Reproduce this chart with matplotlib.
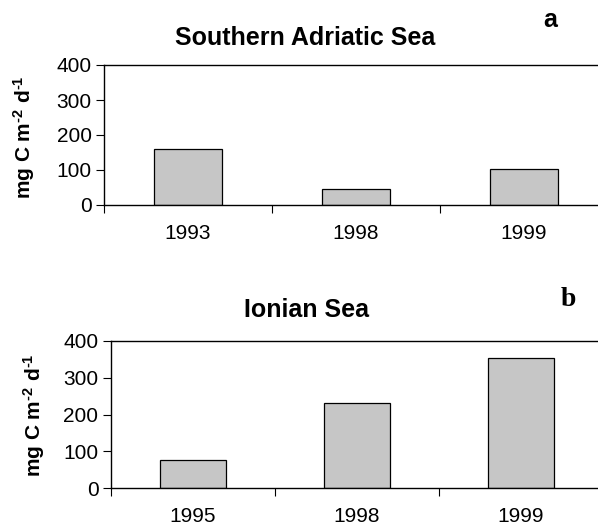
import matplotlib
matplotlib.use("Agg")
import matplotlib.pyplot as plt

plt.rcParams['font.family'] = ['Liberation Sans', 'DejaVu Sans']
plt.rcParams['mathtext.fontset'] = 'custom'
plt.rcParams['mathtext.rm'] = 'Liberation Sans'
plt.rcParams['mathtext.bf'] = 'Liberation Sans:bold'

# panel a: Southern Adriatic Sea
years_a = ['1993', '1998', '1999']
prod_a = [160, 45, 104]

# panel b: Ionian Sea
years_b = ['1995', '1998', '1999']
prod_b = [77, 231, 355]

W, H = 598, 527
fig = plt.figure(figsize=(W / 100, H / 100), dpi=100)

# hyphen (U+2010) instead of a math minus, as in the original label
YLABEL = 'mg C m$\\mathbf{^{\u20102}}$ d$\\mathbf{^{\u20101}}$'


def px_axes(left, top, right, bottom):
    return fig.add_axes([left / W, 1 - bottom / H, (right - left) / W, (bottom - top) / H])


def bar_panel(ax, years, vals, xmax, title, title_xy, ylab_xy,
              letter, letter_xy, letter_font):
    x = range(len(years))
    ax.bar(x, vals, width=0.4, color='#c6c6c6', edgecolor='black', linewidth=0.9)
    ax.set_xlim(-0.5, xmax)
    ax.set_ylim(0, 400)
    ax.set_yticks([0, 100, 200, 300, 400])
    ax.tick_params(axis='y', labelsize=15, length=6, width=0.8, direction='out', pad=3)
    # category boundaries carry the ticks, labels sit in the middle
    ax.set_xticks([-0.5, 0.5, 1.5])
    ax.set_xticklabels([])
    ax.set_xticks(list(x), minor=True)
    ax.set_xticklabels(years, minor=True, fontsize=15)
    ax.tick_params(axis='x', which='major', length=6, width=0.8, direction='out')
    ax.tick_params(axis='x', which='minor', length=0, pad=14)
    ax.spines['right'].set_visible(False)
    for s in ['left', 'bottom', 'top']:
        ax.spines[s].set_linewidth(1.0)
    fig.text(ylab_xy[0] / W, 1 - ylab_xy[1] / H, YLABEL, fontsize=15,
             fontweight='bold', rotation=90, ha='center', va='center')
    fig.text(title_xy[0] / W, 1 - title_xy[1] / H, title, fontsize=18,
             fontweight='bold', ha='center', va='center')
    fig.text(letter_xy[0] / W, 1 - letter_xy[1] / H, letter, fontweight='bold',
             ha='center', va='center', **letter_font)


ax1 = px_axes(104, 65, 598, 205)
bar_panel(ax1, years_a, prod_a, 2.44, 'Southern Adriatic Sea', (305, 38), (24, 137),
          'a', (550, 20), dict(fontsize=18, family='Liberation Sans'))

ax2 = px_axes(111, 341, 598, 488)
bar_panel(ax2, years_b, prod_b, 2.47, 'Ionian Sea', (306, 310), (34, 415),
          'b', (568, 300), dict(fontsize=20, family='Liberation Serif'))

fig.savefig('out.png', dpi=100)
